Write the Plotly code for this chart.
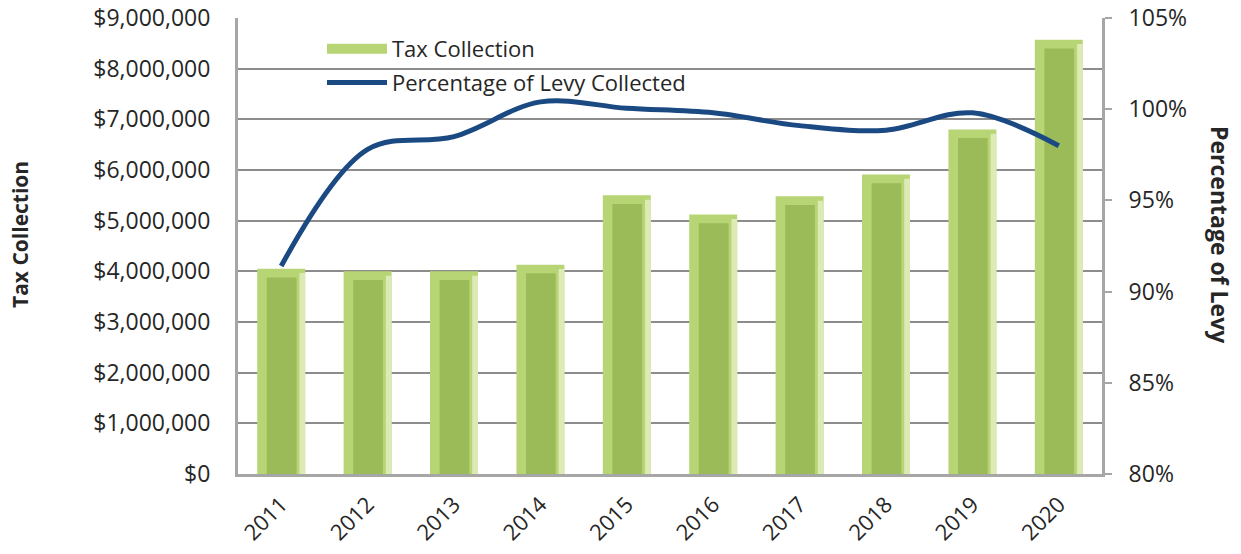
import plotly.graph_objects as go

years = ["2011", "2012", "2013", "2014", "2015", "2016", "2017", "2018", "2019", "2020"]
tax_collection = [4050000, 4000000, 4000000, 4130000, 5500000, 5120000, 5480000, 5910000, 6800000, 8570000]
pct_levy = [91.4, 97.8, 98.5, 100.4, 100.05, 99.8, 99.1, 98.85, 99.8, 98.0]

left_ticks = [0, 1e6, 2e6, 3e6, 4e6, 5e6, 6e6, 7e6, 8e6, 9e6]
left_labels = ["$0", "$1,000,000", "$2,000,000", "$3,000,000", "$4,000,000", "$5,000,000",
               "$6,000,000", "$7,000,000", "$8,000,000", "$9,000,000"]
right_ticks = [80, 85, 90, 95, 100, 105]
right_labels = ["80%", "85%", "90%", "95%", "100%", "105%"]

FONT = "Open Sans"
TXT = "#262626"
GRID = "#8c8c8c"
AX = "#a6a6a6"
GREEN_LIGHT = "#b7d574"
GREEN = "#9bbb59"
TS = 23

W, H = 1241, 554
PL, PT = 238, 18          # plot left/top
PR, PB = 1102, 474        # plot right/bottom
PW, PH = PR - PL, PB - PT

bar_w = 0.555
inner_w = bar_w * 0.62
bevel = 170000  # top bevel depth in data units

fig = go.Figure()
fig.add_trace(go.Bar(x=years, y=tax_collection, name="Tax Collection", width=bar_w,
                     marker=dict(color=GREEN_LIGHT, line=dict(width=0)), yaxis="y", showlegend=False))
fig.add_trace(go.Bar(x=years, y=[v - bevel * 0.5 for v in tax_collection], width=bar_w * 0.12,
                     offset=bar_w / 2 - bar_w * 0.12, marker=dict(color="#dcebb5", line=dict(width=0)),
                     showlegend=False, hoverinfo="skip", yaxis="y"))
fig.add_trace(go.Bar(x=years, y=[v - bevel for v in tax_collection], width=inner_w,
                     offset=-inner_w / 2 + bar_w * 0.01, marker=dict(color=GREEN, line=dict(width=0)),
                     showlegend=False, hoverinfo="skip", yaxis="y"))
fig.add_trace(go.Scatter(x=[None], y=[None], name="Tax Collection", mode="lines",
                         line=dict(color=GREEN_LIGHT, width=14), legendgroup="a", yaxis="y"))
fig.add_trace(go.Scatter(x=years, y=pct_levy, name="Percentage of Levy Collected", mode="lines",
                         line=dict(color="#1b4a83", width=5, shape="spline", smoothing=1.0),
                         legendgroup="b", yaxis="y2"))

fig.update_layout(
    width=W, height=H,
    margin=dict(l=PL, r=W - PR, t=PT, b=H - PB, autoexpand=False),
    paper_bgcolor="white", plot_bgcolor="white",
    barmode="overlay",
    font=dict(family=FONT, size=TS, color=TXT),
    showlegend=True,
    legend=dict(x=(322 - PL) / PW, y=1 - (28 - PT) / PH, xanchor="left", yanchor="top",
                bgcolor="rgba(0,0,0,0)",
                font=dict(size=TS - 1, color=TXT, family=FONT), itemwidth=60,
                traceorder="grouped", tracegroupgap=2),
    xaxis=dict(type="category", tickangle=-45, showgrid=False, showline=True, linecolor=AX, linewidth=3,
               ticks="", tickfont=dict(size=TS - 1, color=TXT, family=FONT), range=[-0.5, 9.5],
               automargin=False, ticklabelstandoff=6, ticklabeloverflow="allow"),
    yaxis=dict(range=[0, 9e6], tickmode="array", tickvals=left_ticks, ticktext=left_labels,
               showgrid=True, gridcolor=GRID, gridwidth=2, showline=True, linecolor=AX, linewidth=3,
               ticks="", zeroline=False, tickfont=dict(size=TS, color=TXT, family=FONT),
               automargin=False, ticklabelstandoff=20, ticklabeloverflow="allow"),
    yaxis2=dict(range=[80, 105], tickmode="array", tickvals=right_ticks, ticktext=right_labels,
                overlaying="y", side="right",
                showgrid=False, showline=True, linecolor=AX, linewidth=3, ticks="outside", ticklen=7,
                tickcolor=AX, tickwidth=2, zeroline=False, tickfont=dict(size=TS, color=TXT, family=FONT),
                automargin=False, ticklabelstandoff=12, ticklabeloverflow="allow"),
    annotations=[
        dict(text="<b>Tax Collection</b>", x=(20 - PL) / PW, y=1 - (235 - PT) / PH, xref="paper",
             yref="paper", showarrow=False, textangle=-90, font=dict(size=21, color=TXT, family=FONT),
             xanchor="center", yanchor="middle", borderpad=0),
        dict(text="<b>Percentage of Levy</b>", x=(1220 - PL) / PW, y=1 - (235 - PT) / PH, xref="paper",
             yref="paper", showarrow=False, textangle=90, font=dict(size=23, color=TXT, family=FONT),
             xanchor="center", yanchor="middle", borderpad=0),
    ],
)

fig.write_html("out.html", config={"displayModeBar": False},
               post_script="document.body.style.margin='0';document.body.style.overflow='hidden';")
